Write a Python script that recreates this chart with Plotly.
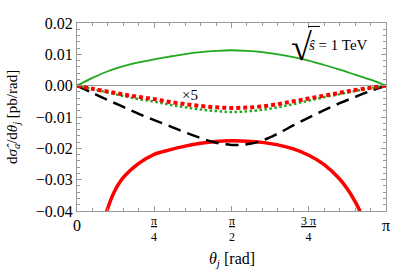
import numpy as np
import plotly.graph_objects as go

PI = np.pi
# theta given as fraction of pi
t_main = [0, 0.05, 0.1, 0.15, 0.2, 0.25, 0.3, 0.35, 0.4, 0.45, 0.5,
          0.55, 0.6, 0.65, 0.7, 0.75, 0.8, 0.85, 0.9, 0.95, 1.0]
green_solid = [0, 0.0025, 0.0046, 0.0062, 0.0074, 0.0084, 0.0093, 0.0101, 0.0107, 0.0111, 0.0113,
               0.0111, 0.0107, 0.0100, 0.0091, 0.0080, 0.0066, 0.0051, 0.0035, 0.0019, 0]
black_dashed = [0, -0.0023, -0.0046, -0.0068, -0.0090, -0.0110, -0.0129, -0.0149, -0.0167, -0.0182, -0.0189,
                -0.0187, -0.0175, -0.0153, -0.0127, -0.0102, -0.0078, -0.0056, -0.0036, -0.0017, 0]
red_dotted = [0, -0.0010, -0.0019, -0.0028, -0.0036, -0.0043, -0.0052, -0.0059, -0.0065, -0.0069, -0.0071,
              -0.0070, -0.0066, -0.0059, -0.0050, -0.0041, -0.0032, -0.0023, -0.0014, -0.0007, 0]
green_dotted = [0, -0.0011, -0.0022, -0.0033, -0.0043, -0.0051, -0.0061, -0.0069, -0.0076, -0.0081, -0.0084,
                -0.0082, -0.0077, -0.0069, -0.0059, -0.0048, -0.0037, -0.0027, -0.0017, -0.0008, 0]
t_red = [0.07, 0.085, 0.1, 0.12, 0.15, 0.2, 0.25, 0.3, 0.35, 0.4, 0.45, 0.5, 0.55, 0.6, 0.65,
         0.7, 0.75, 0.8, 0.85, 0.875, 0.9, 0.915, 0.93]
red_solid = [-0.050, -0.0440, -0.0390, -0.0340, -0.0293, -0.0248, -0.0219, -0.0205, -0.0193, -0.0184,
             -0.0178, -0.0176, -0.0177, -0.0181, -0.0189, -0.0202, -0.0222, -0.0252, -0.0298, -0.0330,
             -0.0370, -0.0400, -0.0450]
x_tick_vals = [0, 0.25, 0.5, 0.75, 1.0]
x_tick_text = ["0", "<u>π</u><br>4", "<u>π</u><br>2", "<u>3 π</u><br>4", "π"]
y_tick_vals = [-0.04, -0.03, -0.02, -0.01, 0.0, 0.01, 0.02]
y_tick_text = ["\u22120.04", "\u22120.03", "\u22120.02", "\u22120.01", "0.00", "0.01", "0.02"]

GREEN = "#1fa81f"
RED = "#ff0000"
FONT = "Liberation Serif"
GRAY = "#999999"

xm = [v * PI for v in t_main]
xr = [v * PI for v in t_red]

fig = go.Figure()
fig.add_trace(go.Scatter(x=xr, y=red_solid, mode="lines", line=dict(color=RED, width=3.5, shape="spline")))
fig.add_trace(go.Scatter(x=xm, y=black_dashed, mode="lines",
                         line=dict(color="black", width=2.5, dash="13px,7px", shape="spline")))
fig.add_trace(go.Scatter(x=xm, y=green_dotted, mode="lines",
                         line=dict(color=GREEN, width=2.4, dash="2.5px,2.5px", shape="spline")))
fig.add_trace(go.Scatter(x=xm, y=red_dotted, mode="lines",
                         line=dict(color=RED, width=4, dash="4px,3px", shape="spline")))
fig.add_trace(go.Scatter(x=xm, y=green_solid, mode="lines",
                         line=dict(color=GREEN, width=1.8, shape="spline")))

axis_common = dict(showgrid=False, showline=True, linecolor=GRAY, linewidth=1, automargin=False,
                   mirror="allticks", ticks="inside", tickcolor=GRAY, ticklen=5, tickwidth=1)

fig.update_xaxes(range=[0, PI], tickvals=[v * PI for v in x_tick_vals], showticklabels=False,
                 zeroline=False,
                 minor=dict(dtick=PI / 20, tick0=0, ticks="inside", ticklen=3, tickcolor=GRAY),
                 **axis_common)
fig.update_yaxes(range=[-0.04, 0.02], tickvals=y_tick_vals, ticktext=y_tick_text,
                 tickfont=dict(family=FONT, size=16, color="black"),
                 zeroline=True, zerolinecolor=GRAY, zerolinewidth=1,
                 minor=dict(dtick=0.002, tick0=0, ticks="inside", ticklen=3, tickcolor=GRAY),
                 **axis_common)

annotations = []
for v, txt in zip(x_tick_vals, x_tick_text):
    frac = "<br>" in txt
    annotations.append(dict(x=v * PI, xref="x", y=0, yref="paper", text=txt, showarrow=False,
                            yanchor="middle", yshift=-18 if frac else -14,
                            font=dict(family=FONT, size=12 if frac else 16, color="black")))
annotations.append(dict(x=PI / 2, xref="x", y=0, yref="paper", yanchor="middle", yshift=-48,
                        text="<i>θ</i><sub><i>j</i></sub> [rad]", showarrow=False,
                        font=dict(family=FONT, size=16, color="black")))
annotations.append(dict(x=0, xref="paper", y=0.5, yref="paper", xanchor="center", yanchor="middle",
                        xshift=-64, textangle=-90, showarrow=False,
                        text="d<i>σ̂</i><sub><i>a</i></sub>/d<i>θ</i><sub><i>j</i></sub> [pb/rad]",
                        font=dict(family=FONT, size=15, color="black")))
annotations.append(dict(x=1.15, y=-0.0029, text="×5", showarrow=False,
                        font=dict(family=FONT, size=15, color="black")))
annotations.append(dict(x=2.41, y=0.0125, text="√", showarrow=False, xanchor="right",
                        font=dict(family=FONT, size=38, color="black")))
annotations.append(dict(x=2.34, y=0.0130, text="<i>ŝ</i> = 1 TeV", showarrow=False, xanchor="left",
                        font=dict(family=FONT, size=15, color="black")))
fig.update_layout(
    width=394, height=273,
    font=dict(family=FONT, color="black"),
    margin=dict(l=77, r=8, t=23, b=62),
    paper_bgcolor="white", plot_bgcolor="white",
    showlegend=False,
    annotations=annotations,
    shapes=[dict(type="line", xref="x", yref="y", x0=2.35, x1=2.471, y0=0.0189, y1=0.0189,
                 line=dict(color="black", width=1))],
)

fig.write_html("out.html", post_script="document.body.style.margin='0';",
               config={"displayModeBar": False})
